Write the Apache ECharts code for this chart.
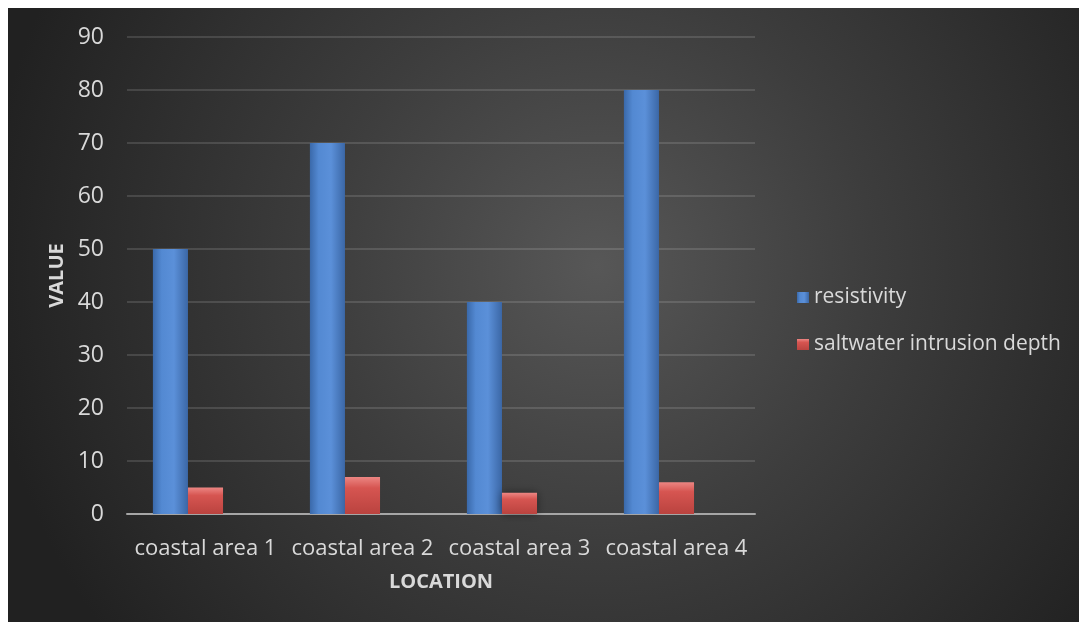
<!DOCTYPE html>
<html>
<head>
<meta charset="utf-8">
<script src="https://cdn.jsdelivr.net/npm/echarts@6/dist/echarts.min.js"></script>
<style>
  html, body { margin: 0; padding: 0; background: #ffffff; }
  #chart { position: absolute; left: 8px; top: 8px; width: 1071px; height: 614px; }
</style>
</head>
<body>
<div id="chart"></div>
<script>
// Survey locations and measured values
const locations = ['coastal area 1', 'coastal area 2', 'coastal area 3', 'coastal area 4'];
const resistivity = [50, 70, 40, 80];
const intrusionDepth = [5, 7, 4, 6];
// third, unused column slot kept empty so each pair sits left of the category centre
const spareSlot = [null, null, null, null];

const textColor = '#d9d9d9';
const fontFamily = 'Open Sans, Noto Sans, sans-serif';

const blueFill = new echarts.graphic.LinearGradient(0, 0, 1, 0, [
  { offset: 0, color: '#3a69aa' },
  { offset: 0.25, color: '#5389d2' },
  { offset: 0.6, color: '#5b90d9' },
  { offset: 1, color: '#3b67a6' }
]);
const redFill = new echarts.graphic.LinearGradient(0, 0, 0, 1, [
  { offset: 0, color: '#ec8683' },
  { offset: 0.3, color: '#d65551' },
  { offset: 1, color: '#ba433f' }
]);

const chart = echarts.init(document.getElementById('chart'));
chart.setOption({
  backgroundColor: {
    type: 'radial', x: 0.55, y: 0.42, r: 1.0,
    colorStops: [
      { offset: 0, color: '#575757' },
      { offset: 0.45, color: '#3d3d3d' },
      { offset: 1, color: '#212121' }
    ]
  },
  textStyle: { fontFamily: fontFamily },
  grid: { left: 119, right: 324, top: 29, bottom: 108 },
  legend: {
    orient: 'vertical',
    left: 784,
    top: 274,
    itemGap: 26,
    itemWidth: 12,
    itemHeight: 11,
    icon: 'rect',
    data: ['resistivity', 'saltwater intrusion depth'],
    textStyle: { color: textColor, fontSize: 21, fontFamily: fontFamily }
  },
  xAxis: {
    type: 'category',
    data: locations,
    name: 'LOCATION',
    nameLocation: 'middle',
    nameGap: 58,
    nameTextStyle: { color: textColor, fontSize: 20, fontWeight: 'bold', fontFamily: fontFamily },
    axisLine: { lineStyle: { color: '#a6a6a6', width: 2 } },
    axisTick: { show: false },
    axisLabel: { color: textColor, fontSize: 22, margin: 24, interval: 0, fontFamily: fontFamily }
  },
  yAxis: {
    type: 'value',
    min: 0, max: 90, interval: 10,
    name: 'VALUE',
    nameLocation: 'middle',
    nameGap: 60,
    nameTextStyle: { color: textColor, fontSize: 20, fontWeight: 'bold', fontFamily: fontFamily },
    axisLine: { show: false },
    axisTick: { show: false },
    axisLabel: { color: textColor, fontSize: 23, margin: 23, fontFamily: fontFamily },
    splitLine: { lineStyle: { color: 'rgba(255,255,255,0.13)', width: 2 } }
  },
  series: [
    {
      name: 'resistivity', type: 'bar', data: resistivity,
      barGap: '0%', barCategoryGap: '33%',
      itemStyle: { color: blueFill, shadowBlur: 8, shadowColor: 'rgba(0,0,0,0.45)' }
    },
    {
      name: 'saltwater intrusion depth', type: 'bar', data: intrusionDepth,
      itemStyle: { color: redFill, shadowBlur: 8, shadowColor: 'rgba(0,0,0,0.45)' }
    },
    {
      name: 'spare', type: 'bar', data: spareSlot, silent: true
    }
  ]
});
</script>
</body>
</html>
